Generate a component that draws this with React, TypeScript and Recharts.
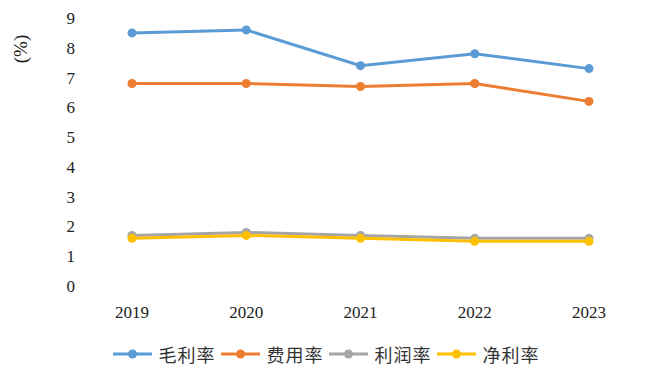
import { LineChart, Line, XAxis, YAxis } from "recharts";

const years = ["2019", "2020", "2021", "2022", "2023"];
const grossMargin = [8.5, 8.6, 7.4, 7.8, 7.3];
const expenseRate = [6.8, 6.8, 6.7, 6.8, 6.2];
const profitRate = [1.7, 1.8, 1.7, 1.6, 1.6];
const netMargin = [1.6, 1.7, 1.6, 1.5, 1.5];
const yTicks = [0, 1, 2, 3, 4, 5, 6, 7, 8, 9];

const series = [
  { key: "gross", name: "毛利率", color: "#5B9BD5" },
  { key: "expense", name: "费用率", color: "#ED7D31" },
  { key: "profit", name: "利润率", color: "#A5A5A5" },
  { key: "net", name: "净利率", color: "#FFC000" },
];

const data = years.map((year, i) => ({
  year,
  gross: grossMargin[i],
  expense: expenseRate[i],
  profit: profitRate[i],
  net: netMargin[i],
}));

const serif = "'Times New Roman', 'Liberation Serif', 'DejaVu Serif', serif";
const cjk = "'Noto Sans CJK SC', sans-serif";

function LegendRow() {
  return (
    <div
      style={{
        position: "absolute",
        top: 344,
        left: 0,
        width: 669,
        display: "flex",
        justifyContent: "center",
        alignItems: "center",
      }}
    >
      <div style={{ display: "flex", alignItems: "center", marginLeft: -12 }}>
        {series.map((s) => (
          <div key={s.key} style={{ display: "flex", alignItems: "center", marginRight: 5 }}>
            <svg width={39} height={12} style={{ marginRight: 7 }}>
              <line x1={0} y1={6} x2={39} y2={6} stroke={s.color} strokeWidth={3} />
              <circle cx={19.5} cy={6} r={4.5} fill={s.color} />
            </svg>
            <span style={{ fontFamily: cjk, fontSize: 18, color: "#333", lineHeight: "20px", letterSpacing: 1 }}>
              {s.name}
            </span>
          </div>
        ))}
      </div>
    </div>
  );
}

const tickStyle = { fill: "#222", fontSize: 17, style: { fontFamily: serif } };

export default function App() {
  return (
    <div
      style={{
        margin: -8,
        position: "relative",
        width: 669,
        height: 386,
        background: "#fff",
        fontFamily: serif,
      }}
    >
      <LineChart
        width={669}
        height={386}
        data={data}
        margin={{ top: 18, right: 23, bottom: 0, left: 0 }}
        style={{ fontFamily: serif }}
      >
        <XAxis
          dataKey="year"
          axisLine={false}
          tickLine={false}
          tickSize={0}
          tickMargin={20}
          height={100}
          padding={{ left: 57, right: 57 }}
          tick={tickStyle}
        />
        <YAxis
          domain={[0, 9]}
          ticks={yTicks}
          interval={0}
          axisLine={false}
          tickLine={false}
          tickSize={0}
          tickMargin={0}
          width={75}
          tick={tickStyle}
          label={{
            content: () => (
              <text
                x={20}
                y={49}
                transform="rotate(-90 20 49)"
                textAnchor="middle"
                dominantBaseline="central"
                style={{ fontFamily: serif, fontSize: 19 }}
                fill="#222"
              >
                (%)
              </text>
            ),
          }}
        />
        {series.map((s) => (
          <Line
            key={s.key}
            dataKey={s.key}
            name={s.name}
            stroke={s.color}
            strokeWidth={3}
            dot={{ r: 4.5, fill: s.color, stroke: s.color, strokeWidth: 0 }}
            activeDot={false}
            isAnimationActive={false}
          />
        ))}
      </LineChart>
      <LegendRow />
    </div>
  );
}
